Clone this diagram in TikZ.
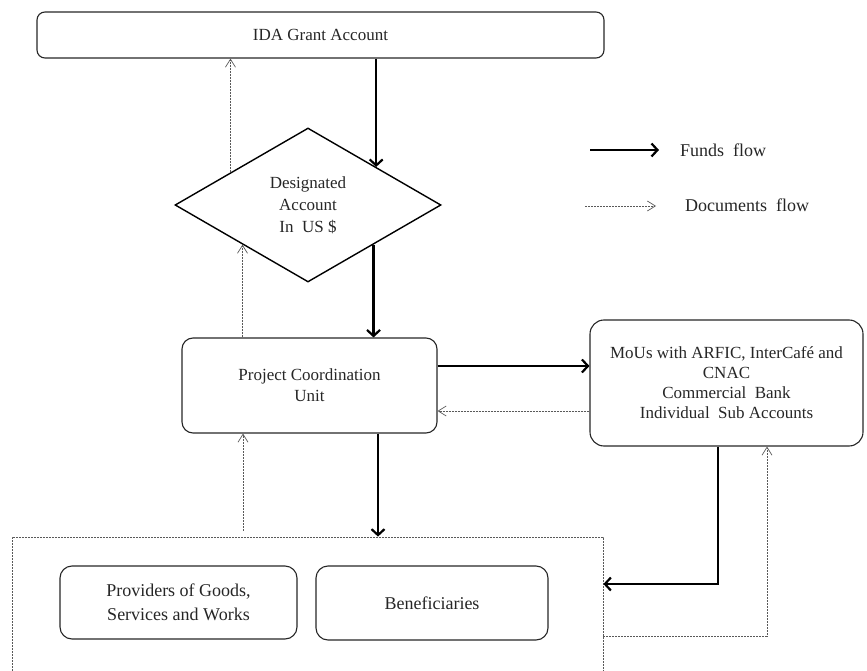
\documentclass[tikz,border=0pt]{standalone}
\usepackage{fontspec}
\setmainfont{Liberation Serif}
\usetikzlibrary{arrows.meta,shapes.geometric,calc}

\begin{document}
\begin{tikzpicture}[x=1pt,y=-1pt,
  box/.style={draw=black!85, line width=1.1pt, rounded corners=11pt, align=center,
              inner sep=0pt, text=black!85, font=\fontsize{17}{21}\selectfont},
  funds/.style={line width=2.6pt, -{Straight Barb[length=6pt,width=13pt,line width=2.2pt]}},
  docs/.style={draw=black!65, line width=0.7pt, dash pattern=on 2pt off 1pt,
               -{Straight Barb[length=8pt,width=10pt,line width=0.7pt]}},
  grpbox/.style={draw=black!65, line width=0.8pt, dash pattern=on 2pt off 1pt},
  legend/.style={anchor=west, inner sep=0pt, text=black!85, font=\fontsize{18}{22}\selectfont}]

\useasboundingbox (0,0) rectangle (867,671);

% boxes
\node[box, rounded corners=8pt, minimum width=567pt, minimum height=46pt] (ida) at (320.5,35) {IDA Grant Account};
\node[diamond, draw=black, line width=1.4pt, minimum width=266pt, minimum height=154pt,
      inner sep=0pt, align=center, text=black!85, font=\fontsize{17}{22}\selectfont]
      (dia) at (308,205) {Designated\\Account\\In\ \ US \$};
\node[box, minimum width=255pt, minimum height=95pt] (pcu) at (309.5,385.5) {Project Coordination\\Unit};
\node[box, rounded corners=14pt, minimum width=273pt, minimum height=126pt,
      font=\fontsize{17}{20}\selectfont] (mou) at (726.5,383)
      {MoUs with ARFIC, InterCafé and\\CNAC\\Commercial\ \ Bank\\Individual\ \ Sub Accounts};
\node[grpbox, minimum width=591pt, minimum height=153pt, inner sep=0pt] (grp) at (307.5,613.5) {};
\node[box, rounded corners=12pt, minimum width=237pt, minimum height=73pt,
      font=\fontsize{18}{24}\selectfont] (prov) at (178.5,602.5) {Providers of Goods,\\Services and Works};
\node[box, rounded corners=12pt, minimum width=232pt, minimum height=74pt,
      font=\fontsize{18}{24}\selectfont] (ben) at (432,603) {Beneficiaries};

% points on the diamond edges
\coordinate (dNE) at ($(dia.north)!0.51!(dia.east)$);
\coordinate (dNW) at ($(dia.north)!0.58!(dia.west)$);
\coordinate (dSE) at ($(dia.east)!0.51!(dia.south)$);
\coordinate (dSW) at ($(dia.west)!0.51!(dia.south)$);

% grant account <-> designated account
\draw[funds] (ida.south -| dNE) -- (dNE);
\draw[docs] (dNW) -- (dNW |- ida.south);

% designated account <-> coordination unit
\draw[funds] (dSE) -- (dSE |- pcu.north);
\draw[docs] (dSW |- pcu.north) -- (dSW);

% coordination unit <-> MoU accounts
\coordinate (pf) at ([yshift=19.5pt]pcu.east);
\coordinate (pd) at ([yshift=-25.5pt]pcu.east);
\draw[funds] (pf) -- (pf -| mou.west);
\draw[docs] (pd -| mou.west) -- (pd);

% coordination unit <-> providers and beneficiaries
\coordinate (pb) at ([xshift=68.5pt]pcu.south);
\coordinate (pu) at ([xshift=-66.5pt]pcu.south);
\draw[funds] (pb) -- (pb |- grp.north);
\draw[docs] ($(pu |- grp.north)+(0,-6)$) -- (pu);

% MoU accounts <-> providers and beneficiaries
\coordinate (mf) at ([xshift=-8.5pt]mou.south);
\coordinate (md) at ([xshift=40.5pt]mou.south);
\coordinate (gf) at ([yshift=29.5pt]grp.east);
\coordinate (gd) at ([yshift=-22.5pt]grp.east);
\draw[funds] (mf) |- (gf);
\draw[docs] (gd) -| (md);

% legend
\coordinate (lf0) at (590,150);
\coordinate (lf1) at (659,150);
\coordinate (ld0) at (585,206);
\coordinate (ld1) at (656,206);
\draw[funds] (lf0) -- (lf1);
\draw[docs] (ld0) -- (ld1);
\node[legend] (lft) at (680,150) {Funds\ \ flow};
\node[legend] (ldt) at (685,205) {Documents\ \ flow};
\end{tikzpicture}
\end{document}
